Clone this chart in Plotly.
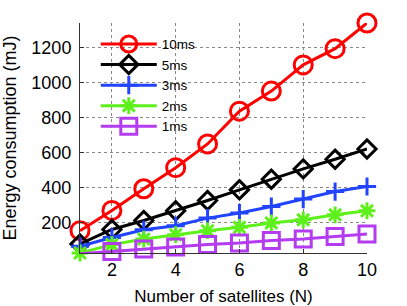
import plotly.graph_objects as go

N = [1, 2, 3, 4, 5, 6, 7, 8, 9, 10]
e_10ms = [153, 269, 393, 514, 650, 838, 953, 1103, 1196, 1343]
e_5ms = [77, 160, 211, 267, 326, 387, 448, 507, 562, 621]
e_3ms = [63, 114, 158, 181, 225, 254, 291, 334, 377, 406]
e_2ms = [25, 73, 105, 130, 153, 172, 197, 215, 244, 267]
e_1ms = [20, 34, 48, 59, 73, 82, 97, 105, 120, 134]

series = [
    ("10ms", e_10ms, "#ff0000", "circle-open", 18),
    ("5ms", e_5ms, "#000000", "diamond-open", 14),
    ("3ms", e_3ms, "#2244ff", "cross-thin-open", 13),
    ("2ms", e_2ms, "#5ef01a", "asterisk-open", 14),
    ("1ms", e_1ms, "#b43cf0", "square-open", 16),
]

fig = go.Figure()
for name, vals, col, sym, sz in series:
    fig.add_trace(go.Scatter(
        x=N, y=vals, name=name, mode="lines+markers",
        line=dict(color=col, width=3),
        marker=dict(symbol=sym, size=sz, color=col, line=dict(color=col, width=3)),
        cliponaxis=False,
    ))

font = "Liberation Sans, Arial, sans-serif"
fig.update_layout(
    width=407, height=306,
    margin=dict(l=80, r=40, t=23, b=53),
    plot_bgcolor="white", paper_bgcolor="white",
    font=dict(family=font, size=18, color="black"),
    showlegend=True,
    legend=dict(
        x=0.055, y=0.975, xanchor="left", yanchor="top",
        bgcolor="rgba(0,0,0,0)", borderwidth=0,
        font=dict(size=13.5), itemwidth=56, tracegroupgap=0,
    ),
    xaxis=dict(
        range=[1, 10], tickvals=[2, 4, 6, 8, 10],
        showgrid=True, gridcolor="#888", griddash="dot", gridwidth=1,
        showline=True, linecolor="#333", linewidth=1,
        ticks="inside", ticklen=4, tickcolor="#333",
        zeroline=False, automargin=False,
        title=dict(text="Number of satellites (N)", font=dict(size=17)),
    ),
    yaxis=dict(
        range=[25, 1343], tickvals=[200, 400, 600, 800, 1000, 1200],
        showgrid=True, gridcolor="#888", griddash="dot", gridwidth=1,
        showline=True, linecolor="#333", linewidth=1,
        ticks="inside", ticklen=4, tickcolor="#333", ticklabelstandoff=4,
        zeroline=False, automargin=False,
        title=dict(text="Energy consumption (mJ)", font=dict(size=18)),
    ),
)

fig.write_html("out.html", config={"displayModeBar": False},
               post_script="document.body.style.margin='0';")
